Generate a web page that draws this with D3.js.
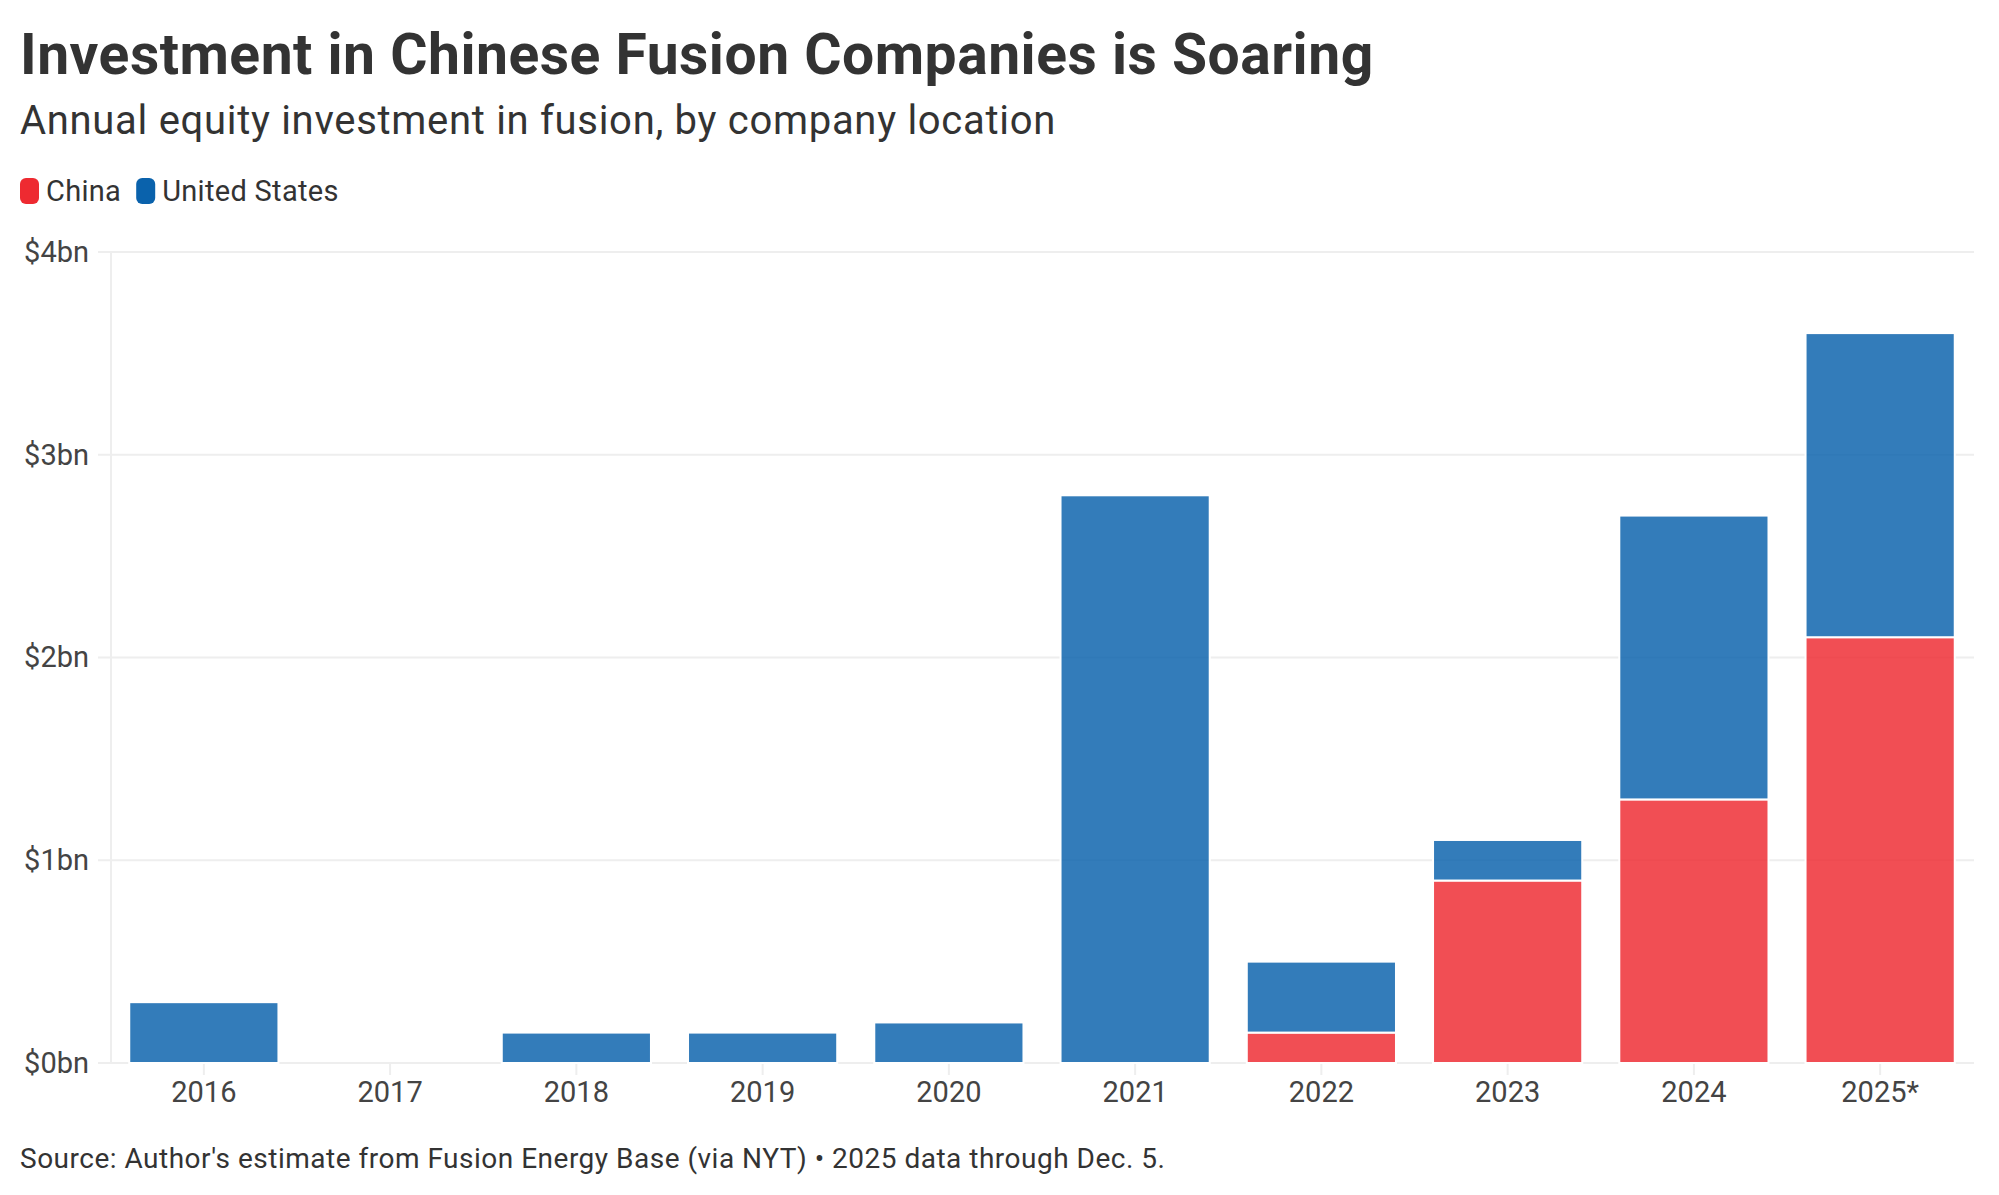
<!DOCTYPE html>
<html>
<head>
<meta charset="utf-8">
<script src="https://cdn.jsdelivr.net/npm/d3@7"></script>
<style>
  body { margin: 0; background: #fff; }
  svg { display: block; font-family: Roboto, "Open Sans", sans-serif; }
</style>
</head>
<body>
<svg width="1999" height="1195"></svg>
<script>
const years = ['2016', '2017', '2018', '2019', '2020', '2021', '2022', '2023', '2024', '2025*'];
const china = [0, 0, 0, 0, 0, 0, 0.15, 0.9, 1.3, 2.1];
const unitedStates = [0.3, 0, 0.15, 0.15, 0.2, 2.8, 0.35, 0.2, 1.4, 1.5];
const yTicks = [0, 1, 2, 3, 4];
const seriesNames = ['China', 'United States'];

const colors = {China: '#ee2a31', 'United States': '#0a62ac'};

const rows = years.map((year, i) => ({year, China: china[i], 'United States': unitedStates[i]}));
const stacked = d3.stack().keys(seriesNames)(rows);

const svg = d3.select('svg');

const x = d3.scaleBand()
  .domain(years)
  .range([111, 1973])
  .paddingInner(0.199)
  .paddingOuter(0.098);

const y = d3.scaleLinear()
  .domain([0, 4])
  .range([1063, 252]);

// title block
svg.append('text')
  .attr('x', 20).attr('y', 74)
  .attr('font-size', 57).attr('font-weight', 700)
  .attr('letter-spacing', 0.5)
  .attr('fill', '#333')
  .text('Investment in Chinese Fusion Companies is Soaring');

svg.append('text')
  .attr('x', 20).attr('y', 134)
  .attr('font-size', 40)
  .attr('letter-spacing', 0.7)
  .attr('fill', '#333')
  .text('Annual equity investment in fusion, by company location');

// legend
const legend = svg.append('g').attr('transform', 'translate(20,191)');
let lx = 0;
seriesNames.forEach((name) => {
  legend.append('rect')
    .attr('x', lx).attr('y', -13)
    .attr('width', 19).attr('height', 26)
    .attr('rx', 6)
    .attr('fill', colors[name]);
  const t = legend.append('text')
    .attr('x', lx + 26).attr('y', 10)
    .attr('font-size', 29).attr('fill', '#333')
    .attr('letter-spacing', 0.3)
    .text(name);
  lx += 26 + t.node().getComputedTextLength() + 15;
});

// grid + y axis
const yAxis = svg.append('g')
  .attr('transform', 'translate(98,0)')
  .call(d3.axisLeft(y).tickValues(yTicks).tickSize(0).tickPadding(9).tickFormat((d) => `$${d}bn`));
yAxis.select('.domain').remove();
yAxis.selectAll('text').attr('font-size', 29).attr('fill', '#444').attr('font-family', 'Roboto, sans-serif');

svg.append('g')
  .selectAll('line')
  .data(yTicks)
  .join('line')
  .attr('x1', 98).attr('x2', 1974)
  .attr('y1', (d) => y(d)).attr('y2', (d) => y(d))
  .attr('stroke', '#eeeeee').attr('stroke-width', 2);

svg.append('line')
  .attr('x1', 111).attr('x2', 111)
  .attr('y1', y(4)).attr('y2', y(0))
  .attr('stroke', '#eeeeee').attr('stroke-width', 2);

// x axis
const xAxis = svg.append('g')
  .attr('transform', `translate(0,${y(0)})`)
  .call(d3.axisBottom(x).tickSize(12).tickPadding(6));
xAxis.select('.domain').remove();
xAxis.selectAll('line').attr('stroke', '#eeeeee').attr('stroke-width', 2);
xAxis.selectAll('text').attr('font-size', 29).attr('fill', '#444').attr('font-family', 'Roboto, sans-serif');

// bars
svg.append('g')
  .selectAll('g')
  .data(stacked)
  .join('g')
  .attr('fill', (d) => colors[d.key])
  .attr('fill-opacity', 0.83)
  .selectAll('rect')
  .data((d) => d.filter((p) => p[1] - p[0] > 0))
  .join('rect')
  .attr('x', (d) => x(d.data.year))
  .attr('width', x.bandwidth())
  .attr('y', (d) => y(d[1]))
  .attr('height', (d) => y(d[0]) - y(d[1]))
  .attr('stroke', '#fff')
  .attr('stroke-width', 2);

// source
svg.append('text')
  .attr('x', 20).attr('y', 1168)
  .attr('font-size', 28).attr('fill', '#333')
  .attr('letter-spacing', 0.5)
  .text("Source: Author's estimate from Fusion Energy Base (via NYT) \u2022 2025 data through Dec. 5.");
</script>
</body>
</html>
